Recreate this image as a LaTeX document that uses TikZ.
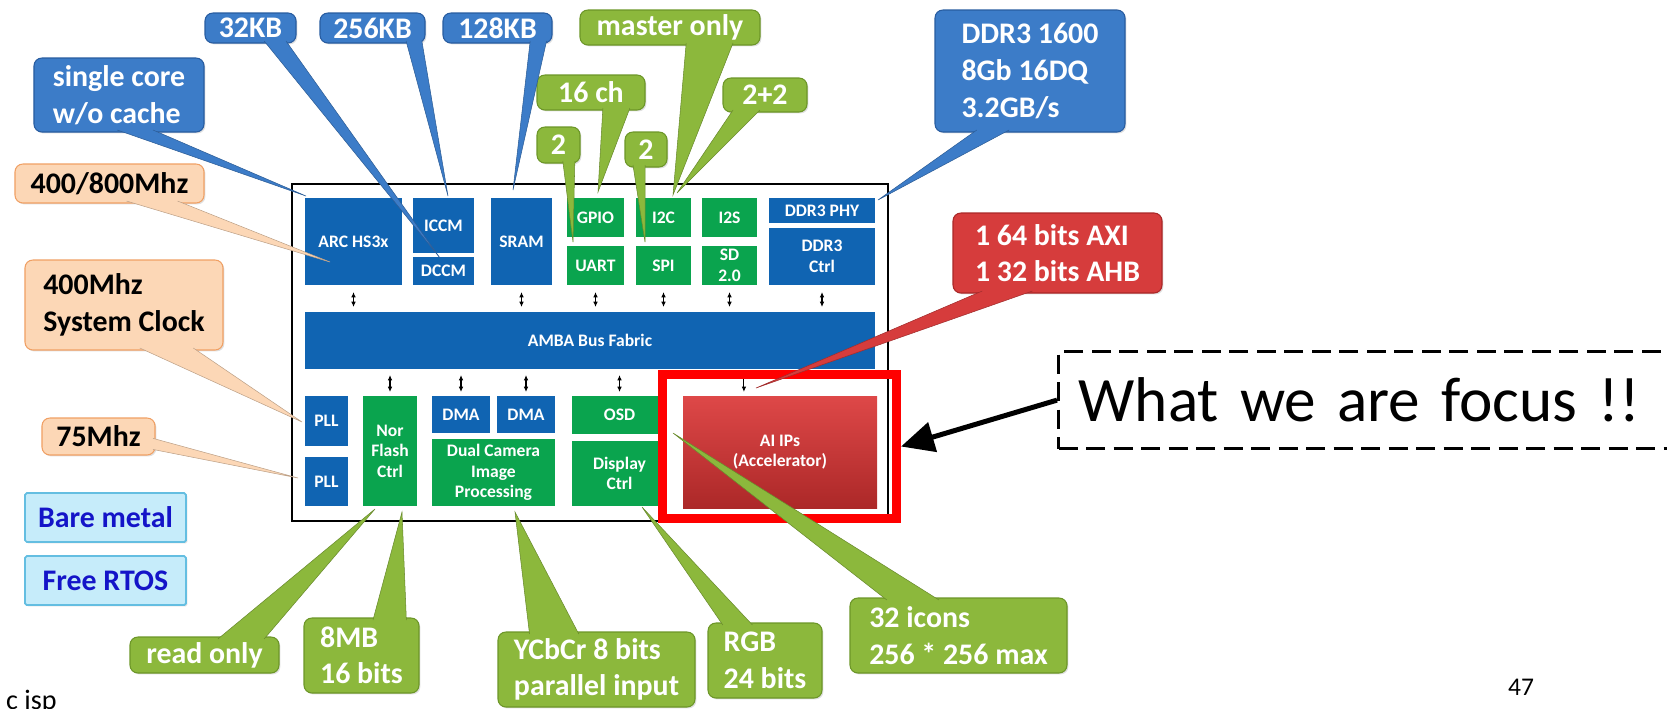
\documentclass[tikz,border=0pt]{standalone}
\usepackage{fontspec}
\setmainfont{Carlito}
\usetikzlibrary{arrows.meta,calc,shadows}

\definecolor{blkblue}{RGB}{16,100,178}
\definecolor{blkgreen}{RGB}{10,164,78}
\definecolor{cblue}{RGB}{60,124,200}
\definecolor{cblueD}{RGB}{40,92,160}
\definecolor{cgreen}{RGB}{140,184,60}
\definecolor{cgreenD}{RGB}{108,150,40}
\definecolor{corange}{RGB}{252,215,182}
\definecolor{corangeD}{RGB}{240,160,100}
\definecolor{cred}{RGB}{214,60,60}
\definecolor{credD}{RGB}{170,40,40}
\definecolor{ccyan}{RGB}{198,236,250}
\definecolor{ccyanD}{RGB}{100,190,225}
\definecolor{cnavy}{RGB}{20,20,200}
\definecolor{aitop}{RGB}{222,72,72}
\definecolor{aibot}{RGB}{172,40,40}
\definecolor{focusred}{RGB}{255,0,0}

% name x1 y1 x2 y2 style text  (coordinates in reference pixels)
\newcommand\mkbox[7]{%
  \pgfmathsetmacro\mkw{(#4-#2)*0.02}%
  \pgfmathsetmacro\mkh{(#5-#3)*0.02}%
  \node[#6,minimum width=\mkw cm,minimum height=\mkh cm] (#1) at ({(#2+#4)/2},{(#3+#5)/2}) {#7};}

% colour node corner1 corner2 f1 f2 tip shift
\newcommand\calltail[8]{%
  \coordinate (tA) at ($(#2.#3)!#5!(#2.#4)+(#8)$);
  \coordinate (tB) at ($(#2.#3)!#6!(#2.#4)+(#8)$);
  \fill[#1] (tA) -- (#7) -- (tB) -- cycle;
  \draw[#1!75!black,line width=0.3pt] (tA) -- (#7) -- (tB);}

\tikzset{
  blk/.style={inner sep=0pt,outer sep=0pt,text=white,align=center,
    font=\bfseries\fontsize{10}{11.7}\selectfont},
  bblue/.style={blk,fill=blkblue},
  bgreen/.style={blk,fill=blkgreen},
  bred/.style={blk,top color=aitop,bottom color=aibot},
  co/.style={rounded corners=4.5pt,inner sep=0pt,outer sep=0pt,align=left,
    line width=0.6pt,font=\bfseries\fontsize{17}{20.8}\selectfont,
    drop shadow={opacity=0.25,shadow xshift=0.8pt,shadow yshift=-0.8pt}},
  cob/.style={co,fill=cblue,draw=cblueD,text=white},
  cog/.style={co,fill=cgreen,draw=cgreenD,text=white},
  coo/.style={co,fill=corange,draw=corangeD,text=black},
  cor/.style={co,fill=cred,draw=credD,text=white},
  coc/.style={co,rounded corners=1pt,fill=ccyan,draw=ccyanD,text=cnavy,line width=1pt},
  bi/.style={{Latex[length=3pt,width=2.6pt]}-{Latex[length=3pt,width=2.6pt]},line width=0.6pt},
  down/.style={-{Latex[length=3pt,width=2.6pt]},line width=0.6pt},
}

\begin{document}
\begin{tikzpicture}[x=0.02cm,y=-0.02cm]
\useasboundingbox (0,0) rectangle (1667,708);

% chip frame
\mkbox{frame}{292}{184}{888}{521}{draw=black,line width=0.04cm,inner sep=0pt,outer sep=0pt}{}

% blocks
\mkbox{arc}{305}{198}{402}{285}{bblue}{ARC HS3x}
\mkbox{iccm}{413}{198}{474}{253}{bblue}{ICCM}
\mkbox{dccm}{413}{257}{474}{285}{bblue}{DCCM}
\mkbox{sram}{491}{198}{552}{285}{bblue}{SRAM}
\mkbox{gpio}{567}{198}{624}{237}{bgreen}{GPIO}
\mkbox{uart}{567}{246}{624}{285}{bgreen}{UART}
\mkbox{i2c}{636}{198}{691}{237}{bgreen}{I2C}
\mkbox{spi}{636}{246}{691}{285}{bgreen}{SPI}
\mkbox{i2s}{702}{198}{757}{237}{bgreen}{I2S}
\mkbox{sd}{702}{246}{757}{285}{bgreen}{SD\\2.0}
\mkbox{ddrphy}{769}{198}{875}{223}{bblue}{DDR3 PHY}
\mkbox{ddrctrl}{769}{228}{875}{285}{bblue}{DDR3\\Ctrl}
\mkbox{amba}{305}{312}{875}{369}{bblue}{AMBA Bus Fabric}
\mkbox{pll1}{305}{396}{348}{446}{bblue}{PLL}
\mkbox{pll2}{305}{457}{348}{506}{bblue}{PLL}
\mkbox{nor}{363}{396}{417}{506}{bgreen}{Nor\\Flash\\Ctrl}
\mkbox{dma1}{432}{396}{490}{433}{bblue}{DMA}
\mkbox{dma2}{497}{396}{555}{433}{bblue}{DMA}
\mkbox{cam}{432}{439}{555}{506}{bgreen}{Dual Camera\\Image\\Processing}
\mkbox{osd}{572}{396}{667}{434}{bgreen}{OSD}
\mkbox{disp}{572}{441}{667}{506}{bgreen}{Display\\Ctrl}
\mkbox{ai}{683}{396}{877}{508}{bred}{AI IPs\\(Accelerator)}

% bus arrows
\foreach \b in {arc,sram,uart,spi,sd,ddrctrl}
  \draw[bi,shorten <=0.14cm,shorten >=0.1cm] (\b.south) -- (\b.south |- amba.north);
\foreach \b in {nor,dma1,dma2,osd}
  \draw[bi,shorten <=0.12cm,shorten >=0.08cm] (amba.south -| \b.north) -- (\b.north);
\coordinate (aiin) at ($(ai.north west)!0.314!(ai.north east)$);
\draw[down,shorten <=0.12cm,shorten >=0.08cm] (amba.south -| aiin) -- (aiin);

% focus frame
\mkbox{aifocus}{662.5}{374.5}{896.5}{518.5}{draw=focusred,line width=0.18cm,inner sep=0pt,outer sep=0.09cm}{}

% callouts
\mkbox{c32}{205}{13}{296}{43}{cob}{32KB}
\mkbox{c256}{320}{13}{425}{43}{cob}{256KB}
\mkbox{c128}{443}{13}{552}{43}{cob}{128KB}
\mkbox{csingle}{34}{58}{204}{132}{cob}{single core\\w/o cache}
\mkbox{cmaster}{580}{10}{760}{45}{cog}{master only}
\mkbox{c16}{537}{75}{645}{110}{cog}{16 ch}
\mkbox{c22}{723}{78}{807}{112}{cog}{2+2}
\mkbox{c2a}{537}{127}{580}{163}{cog}{2}
\mkbox{c2b}{625}{132}{667}{167}{cog}{2}
\mkbox{cddr}{935}{10}{1125}{132}{cob}{DDR3 1600\\8Gb 16DQ\\3.2GB/s}
\mkbox{cbus}{953}{213}{1162}{293}{cor}{1 64 bits AXI\\1 32 bits AHB}
\mkbox{cmhz}{15}{164}{204}{203}{coo}{400/800Mhz}
\mkbox{csys}{25}{260}{223}{350}{coo}{400Mhz\\System Clock}
\mkbox{c75}{42}{418}{155}{455}{coo}{75Mhz}
\mkbox{bare}{25}{493}{186}{542}{coc}{Bare metal}
\mkbox{rtos}{25}{556}{186}{605}{coc}{Free RTOS}
\mkbox{cread}{130}{637}{279}{673}{cog}{read only}
\mkbox{c8mb}{304}{618}{419}{693}{cog}{8MB\\16 bits}
\mkbox{cycc}{498}{632}{695}{707}{cog}{YCbCr 8 bits\\parallel input}
\mkbox{crgb}{708}{623}{822}{698}{cog}{RGB\\24 bits}
\mkbox{cicon}{850}{598}{1067}{673}{cog}{32 icons\\256 * 256 max}

% tail tips
\coordinate (t32) at (440,258);
\coordinate (t256) at (448,196);
\coordinate (t128) at (513,190);
\coordinate (tsingle) at (306,196);
\coordinate (tmaster) at (673,195);
\coordinate (t16) at (598,192);
\coordinate (t22) at (677,193);
\coordinate (t2a) at (573,242);
\coordinate (t2b) at (645,242);
\coordinate (tddr) at (878,200);
\coordinate (tbus) at (756,388);
\coordinate (tmhz) at (330,262);
\coordinate (tsys) at (302,422);
\coordinate (t75) at (298,478);
\coordinate (tread) at (375,509);
\coordinate (t8mb) at (402,512);
\coordinate (tycc) at (515,512);
\coordinate (trgb) at (642,507);
\coordinate (ticon) at (673,433);

% tails
\calltail{cblue}{c32}{south west}{south east}{0.65}{0.89}{t32}{0,-2}
\calltail{cblue}{c256}{south west}{south east}{0.82}{0.97}{t256}{0,-2}
\calltail{cblue}{c128}{south west}{south east}{0.80}{0.95}{t128}{0,-2}
\calltail{cblue}{csingle}{south west}{south east}{0.49}{0.70}{tsingle}{0,-2}
\calltail{cgreen}{cmaster}{south west}{south east}{0.59}{0.85}{tmaster}{0,-2}
\calltail{cgreen}{c16}{south west}{south east}{0.61}{0.86}{t16}{0,-2}
\calltail{cgreen}{c22}{south west}{south east}{0.12}{0.44}{t22}{0,-2}
\calltail{cgreen}{c2a}{south west}{south east}{0.60}{0.88}{t2a}{0,-2}
\calltail{cgreen}{c2b}{south west}{south east}{0.19}{0.48}{t2b}{0,-2}
\calltail{cblue}{cddr}{south west}{south east}{0.22}{0.39}{tddr}{0,-2}
\calltail{cred}{cbus}{south west}{south east}{0.14}{0.38}{tbus}{0,-2}
\calltail{corange}{cmhz}{south west}{south east}{0.59}{0.86}{tmhz}{0,-2}
\calltail{corange}{csys}{south west}{south east}{0.58}{0.85}{tsys}{0,-2}
\calltail{corange}{c75}{north east}{south east}{0.55}{0.85}{t75}{-2,0}
\calltail{cgreen}{cread}{north west}{north east}{0.59}{0.90}{tread}{0,2}
\calltail{cgreen}{c8mb}{north west}{north east}{0.60}{0.89}{t8mb}{0,2}
\calltail{cgreen}{cycc}{north west}{north east}{0.16}{0.41}{tycc}{0,2}
\calltail{cgreen}{crgb}{north west}{north east}{0.13}{0.39}{trgb}{0,2}
\calltail{cgreen}{cicon}{north west}{north east}{0.17}{0.41}{ticon}{0,2}

% focus note
\node[draw,line width=0.065cm,dash pattern=on 0.38cm off 0.17cm,anchor=north west,
  minimum height=1.94cm,text width=12.5cm,inner xsep=0.4cm,inner ysep=0pt,align=left,
  font=\fontsize{36}{40}\selectfont] (focus) at (1057,350) {What we are focus !!};
\draw[line width=0.1cm,-{Triangle[length=0.66cm,width=0.6cm]}] (focus.west) -- (aifocus.east);

% page texts
\node[anchor=base,inner sep=0pt,font=\fontsize{14.5}{16}\selectfont] (pageno) at (1521,695) {47};
\node[anchor=base east,inner sep=0pt,font=\fontsize{16}{18}\selectfont] (isp) at (57,709) {c isp};
\end{tikzpicture}
\end{document}
